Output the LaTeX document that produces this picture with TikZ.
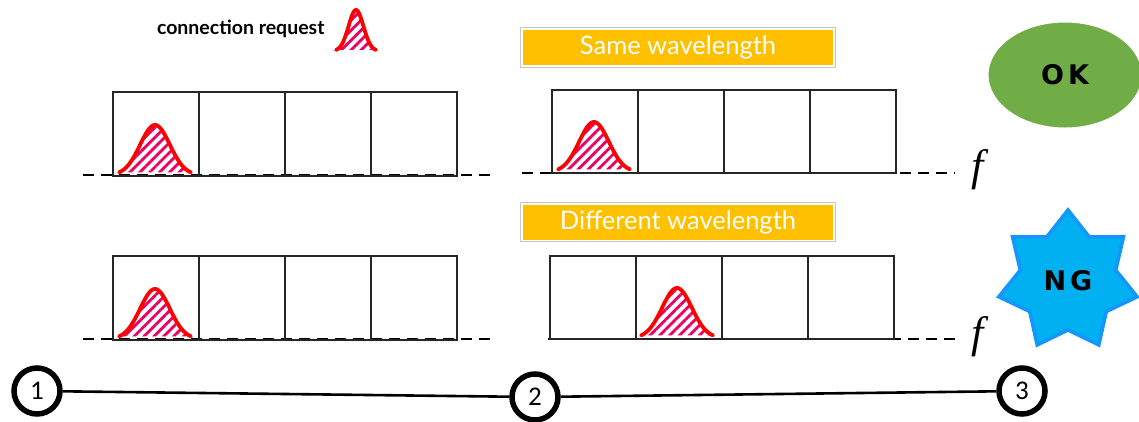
\documentclass[tikz,border=0pt]{standalone}
\usepackage{fontspec}
\setmainfont{Lato}
\newfontfamily\numfont{Carlito}
\newfontfamily\heavyfont{DejaVu Sans}
\newfontfamily\freqfont{Liberation Serif}
\usetikzlibrary{shapes.geometric,patterns.meta}
\definecolor{bannerorange}{RGB}{255,192,0}
\definecolor{okgreen}{RGB}{112,173,71}
\definecolor{ngfill}{RGB}{0,176,240}
\definecolor{ngdraw}{RGB}{20,150,255}
\definecolor{hatch}{RGB}{236,0,100}
\newcommand{\pulse}[5]{%
  \fill[white] plot[domain=-#3:#3,samples=60] ({#1+\x},{#2-#4*exp(-(\x/#5)^2)}) -- cycle;
  \fill[pattern={Lines[angle=45,distance=7pt,line width=2.8pt]},pattern color=hatch]
    plot[domain=-#3:#3,samples=60] ({#1+\x},{#2-#4*exp(-(\x/#5)^2)}) -- cycle;
  \draw[red,line width=3.8pt,line cap=round,line join=round]
    plot[domain=-#3:#3,samples=60] ({#1+\x},{#2-#4*exp(-(\x/#5)^2)});
}
\begin{document}
\begin{tikzpicture}[x=1pt,y=-1pt,
  cell/.style={draw=black!85,line width=1.5pt,minimum width=86pt,minimum height=84pt,inner sep=0pt,anchor=north west},
  axis/.style={line width=2.8pt,dash pattern=on 11pt off 7pt},
  banner/.style={fill=bannerorange,text=white,minimum width=310pt,minimum height=35pt,inner sep=0pt,font=\fontsize{25.5}{25.5}\selectfont},
  bannerframe/.style={draw=black!22,line width=0.8pt},
  station/.style={circle,draw=black,line width=5.5pt,fill=white,minimum size=46pt,inner sep=0pt,font=\numfont\fontsize{27}{27}\selectfont},
  link/.style={line width=2.6pt},
  freq/.style={inner sep=0pt,font=\freqfont\itshape\fontsize{44}{44}\selectfont},
  verdict/.style={font=\heavyfont\bfseries\fontsize{27}{27}\selectfont}
]
\useasboundingbox (0,0) rectangle (1139,421);

% legend
\node[anchor=east,font=\bfseries\fontsize{19.5}{19.5}\selectfont] (legend) at (328,29) {connection request};
\pulse{356}{51}{20}{41}{10.5}

% banners
\node[banner] (same) at (678,47.5) {Same wavelength};
\draw[bannerframe] ([shift={(-2,-2)}]same.north west) rectangle ([shift={(2,2)}]same.south east);
\node[banner] (diff) at (678,222) {Different wavelength};
\draw[bannerframe] ([shift={(-2,-2)}]diff.north west) rectangle ([shift={(2,2)}]diff.south east);

% axes
\coordinate (a1) at (83,175); \coordinate (a2) at (492,175);
\coordinate (b1) at (522,173); \coordinate (b2) at (955,173);
\coordinate (c1) at (83,339); \coordinate (c2) at (492,339);
\coordinate (d1) at (548,339); \coordinate (d2) at (955,339);
\draw[axis] (a1) -- (a2);
\draw[axis] (b1) -- (b2);
\draw[axis] (c1) -- (c2);
\draw[axis] (d1) -- (d2);

% cells
\foreach \i in {0,1,2,3}{
  \node[cell] (tl\i) at ({112+86*\i},91) {};
  \node[cell,minimum height=83pt] (tr\i) at ({551+86*\i},89) {};
  \node[cell] (bl\i) at ({112+86*\i},255) {};
  \node[cell,minimum height=83pt] (br\i) at ({549+86*\i},255) {};
}

% pulses
\pulse{155}{175}{36}{50}{21}
\pulse{594}{172}{36}{50}{21}
\pulse{155}{339}{36}{50}{21}
\pulse{677}{338}{36}{50}{21}

% frequency labels
\node[freq] (f1) at (978,170) {f};
\node[freq] (f2) at (978,337) {f};

% OK / NG
\node[ellipse,fill=okgreen,draw=white,line width=1pt,minimum width=154pt,minimum height=106pt,verdict] (ok) at (1065,75) {O\hspace{4pt}K};
\node[star,star points=7,star point ratio=1.45,minimum size=142pt,fill=ngfill,draw=ngdraw,line width=3.5pt,
  inner sep=0pt,verdict] (ng) at (1068,281) {N\hspace{4pt}G};

% stations
\node[station] (s1) at (37,391) {1};
\node[station] (s2) at (535,397) {2};
\node[station] (s3) at (1022,391) {3};
\draw[link] (s1) -- (s2);
\draw[link] (s2) -- (s3);
\end{tikzpicture}
\end{document}
